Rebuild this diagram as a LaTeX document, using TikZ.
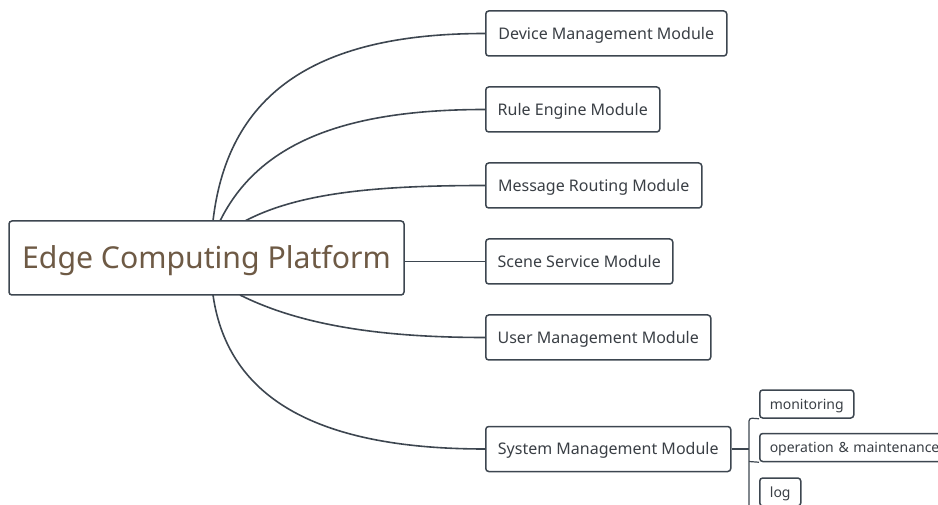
\documentclass[tikz,border=0pt]{standalone}
\usepackage{fontspec}
\setmainfont{Noto Sans}
\definecolor{edge}{HTML}{3D4650}
\definecolor{roottxt}{HTML}{6E5A45}
\definecolor{childtxt}{HTML}{3A3F45}
\begin{document}
\begin{tikzpicture}[x=1pt,y=-1pt,
  box/.style={draw=edge,line width=1.5pt,rounded corners=3pt,fill=white,inner sep=0pt,text=childtxt,text depth=0pt},
  child/.style={box,anchor=west,minimum height=45pt,text height=11.4pt,font=\fontsize{16}{19}\selectfont},
  leaf/.style={box,anchor=west,minimum height=28pt,text height=10pt,font=\fontsize{14}{17}\selectfont},
  rootbox/.style={box,minimum width=395pt,minimum height=74pt,text height=21.6pt,text=roottxt,font=\fontsize{30.2}{36}\selectfont},
  conn/.style={draw=edge,line width=1.6pt}]
\useasboundingbox (0,0) rectangle (938,505);
\clip (0,0) rectangle (938,505);
% connectors (drawn first, under boxes)
\coordinate (r1) at (213,221);
\coordinate (r2) at (220,221);
\coordinate (r3) at (245,221);
\coordinate (r5) at (240,295);
\coordinate (r6) at (213,295);
\coordinate (dl) at (485,33.5);
\coordinate (rl) at (485,109.5);
\coordinate (ml) at (485,185.5);
\coordinate (sl) at (485,261.5);
\coordinate (ul) at (485,337.5);
\coordinate (yl) at (485,449);
\draw[conn] (r1) .. controls (228,90) and (320,33.5) .. (dl);
\draw[conn] (r2) .. controls (260,140) and (350,109.5) .. (rl);
\draw[conn] (r3) .. controls (300,192) and (380,185.5) .. (ml);
\draw[conn] (400,261.5) -- (sl);
\draw[conn] (r5) .. controls (300,325) and (380,337.5) .. (ul);
\draw[conn] (r6) .. controls (228,400) and (320,449) .. (yl);
% root
\node[rootbox] (root) at (206.5,258) {Edge Computing Platform};
% children
\node[child,minimum width=241pt] (dev) at (dl) {Device Management Module};
\node[child,minimum width=174pt] (rule) at (rl) {Rule Engine Module};
\node[child,minimum width=216pt] (msg) at (ml) {Message Routing Module};
\node[child,minimum width=187pt] (scene) at (sl) {Scene Service Module};
\node[child,minimum width=225pt] (user) at (ul) {User Management Module};
\node[child,minimum width=245pt] (sys) at (yl) {System Management Module};
% leaves
\node[leaf,minimum width=94pt] (mon) at (759,404) {monitoring};
\node[leaf,minimum width=190pt,text width=180pt,align=left,inner xsep=10pt] (ops) at (759,447.5) {operation \& maintenance};
\node[leaf,minimum width=41pt] (log) at (759,492) {log};
% bracket
\coordinate (bk) at (749,449);
\draw[conn,line width=1.2pt] (sys.east) -- (bk);
\draw[conn,line width=1.2pt,rounded corners=3pt] (mon.south west) -- (749,418) -- (749,510);
\draw[conn,line width=1.2pt] (749,461.5) -- (ops.south west);
\draw[conn,line width=1.2pt] (749,506) -- (log.south west);
\end{tikzpicture}
\end{document}
